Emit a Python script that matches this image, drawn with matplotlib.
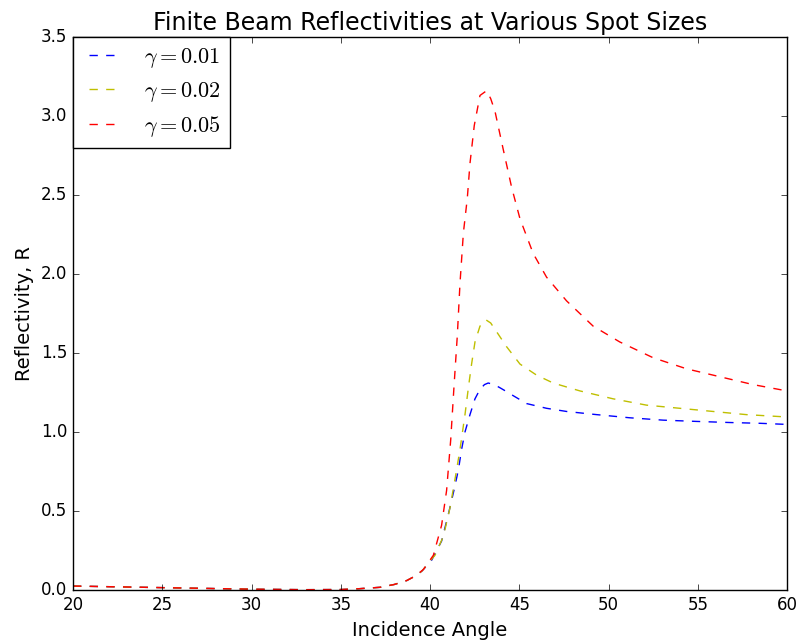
import matplotlib
matplotlib.use("Agg")
import matplotlib.pyplot as plt

plt.style.use("classic")

# ---- data ----
angle_blue = [20, 25, 30, 33, 35, 36, 37.2, 38.0, 38.7, 39.2, 39.55, 40.1, 40.65, 41.03, 41.34, 41.59,
              41.77, 41.96, 42.24, 42.52, 42.80, 43.05, 43.26, 43.6, 43.92, 44.3, 44.66, 45.41, 46.53,
              47.65, 49.33, 51.19, 53.06, 54.93, 56.79, 58.5, 60]
r_blue = [0.025, 0.015, 0.005, 0.002, 0.003, 0.008, 0.017, 0.035, 0.06, 0.09, 0.12, 0.19, 0.31, 0.48, 0.63, 0.76,
          0.89, 1.00, 1.11, 1.21, 1.27, 1.30, 1.31, 1.30, 1.28, 1.255, 1.23, 1.18, 1.15,
          1.13, 1.11, 1.09, 1.075, 1.067, 1.06, 1.055, 1.048]

angle_yellow = [20, 25, 30, 33, 35, 36, 37.2, 38.0, 38.7, 39.2, 39.55, 40.05, 40.28, 40.75, 41.12, 41.46,
                41.68, 41.96, 42.15, 42.33, 42.52, 42.80, 43.13, 43.4, 43.64, 44.29, 45.04, 45.97, 46.90,
                48.40, 50.26, 52.13, 54.00, 55.86, 57.72, 60]
r_yellow = [0.025, 0.015, 0.005, 0.002, 0.003, 0.008, 0.017, 0.035, 0.06, 0.09, 0.12, 0.19, 0.22, 0.34, 0.52, 0.74,
            0.89, 1.11, 1.28, 1.43, 1.57, 1.67, 1.71, 1.69, 1.65, 1.54, 1.43, 1.36, 1.31,
            1.26, 1.21, 1.17, 1.15, 1.13, 1.11, 1.095]

angle_red = [20, 25, 30, 33, 35, 36, 37.2, 38.0, 38.7, 39.2, 39.63, 40.19, 40.65, 40.93, 41.16, 41.34,
             41.53, 41.68, 41.87, 42.09, 42.24, 42.48, 42.80, 43.17, 43.4, 43.64, 44.10, 44.57, 45.04,
             45.78, 46.53, 47.65, 49.14, 50.63, 52.50, 54.37, 56.23, 58.10, 60]
r_red = [0.025, 0.015, 0.005, 0.002, 0.003, 0.008, 0.017, 0.035, 0.06, 0.09, 0.13, 0.22, 0.41, 0.63, 0.95, 1.28,
         1.61, 1.94, 2.26, 2.48, 2.70, 2.94, 3.13, 3.16, 3.11, 3.03, 2.79, 2.55, 2.35,
         2.13, 1.98, 1.83, 1.67, 1.57, 1.47, 1.40, 1.35, 1.30, 1.26]

labels = [r"$\gamma = 0.01$", r"$\gamma = 0.02$", r"$\gamma = 0.05$"]
colors = ["b", "y", "r"]

fig = plt.figure(figsize=(8.06, 6.42), dpi=100)
ax = fig.add_axes([73 / 806, 52 / 642, 714 / 806, 553 / 642])

series = [(angle_blue, r_blue), (angle_yellow, r_yellow), (angle_red, r_red)]
for (x, y), lab, c in zip(series, labels, colors):
    ax.plot(x, y, "--", color=c, label=lab)

ax.set_xlim(20, 60)
ax.set_ylim(0, 3.5)
ax.set_xticks(range(20, 61, 5))
ax.set_yticks([0.0, 0.5, 1.0, 1.5, 2.0, 2.5, 3.0, 3.5])
ax.set_title("Finite Beam Reflectivities at Various Spot Sizes", fontsize=17)
ax.set_xlabel("Incidence Angle", fontsize=14)
ax.set_ylabel("Reflectivity, R", fontsize=14)
ax.legend(loc="upper left", fontsize=16, borderaxespad=0, handlelength=2.0,
          labelspacing=0.45)

fig.savefig("out.png", dpi=100)
